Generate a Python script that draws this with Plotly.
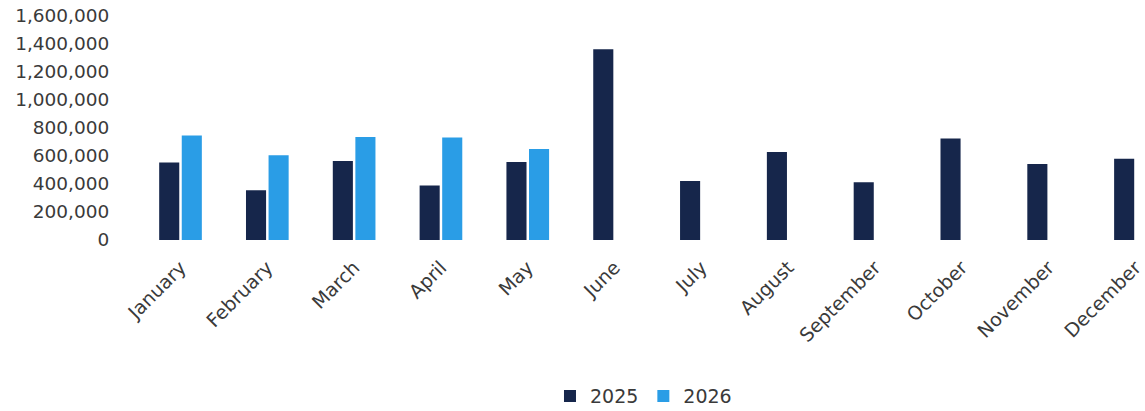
import plotly.graph_objects as go

months = ["January", "February", "March", "April", "May", "June",
          "July", "August", "September", "October", "November", "December"]
sales_2025 = [553000, 356000, 564000, 389000, 557000, 1363000,
              422000, 629000, 413000, 725000, 543000, 581000]
sales_2026 = [747000, 605000, 735000, 733000, 650000, None,
              None, None, None, None, None, None]
y_ticks = [0, 200000, 400000, 600000, 800000, 1000000, 1200000, 1400000, 1600000]

NAVY = "#16264B"
SKY = "#2A9DE6"
TEXT = "#3A3A3A"
FONT = "DejaVu Sans"

fig = go.Figure()
fig.add_trace(go.Bar(name="2025", x=months, y=sales_2025, marker_color=NAVY,
                     marker_line_width=0))
fig.add_trace(go.Bar(name="2026", x=months, y=sales_2026, marker_color=SKY,
                     marker_line_width=0))

fig.update_layout(
    width=1145, height=411,
    margin=dict(l=118, r=0, t=16, b=171),
    paper_bgcolor="white", plot_bgcolor="white",
    barmode="group", bargap=0.48, bargroupgap=0.11,
    font=dict(family=FONT, color=TEXT, size=18),
    showlegend=True,
    legend=dict(orientation="h", x=0.562, xanchor="center", xref="container",
                y=0.036, yanchor="middle", yref="container",
                font=dict(size=19, color=TEXT), itemsizing="constant",
                itemwidth=30, traceorder="normal"),
)

fig.update_xaxes(
    type="category", range=[-0.72, 11.11], tickangle=-45,
    showgrid=False, showline=False, zeroline=False,
    ticks="outside", ticklen=8, tickcolor="white",
    tickfont=dict(size=19, color=TEXT),
)
fig.update_yaxes(
    range=[0, 1600000], tickvals=y_ticks,
    ticktext=[f"{v:,}" for v in y_ticks],
    showgrid=False, showline=False, zeroline=False,
    ticks="outside", ticklen=4, tickcolor="white",
    tickfont=dict(size=18.5, color=TEXT),
)

fig.write_html("out.html")
